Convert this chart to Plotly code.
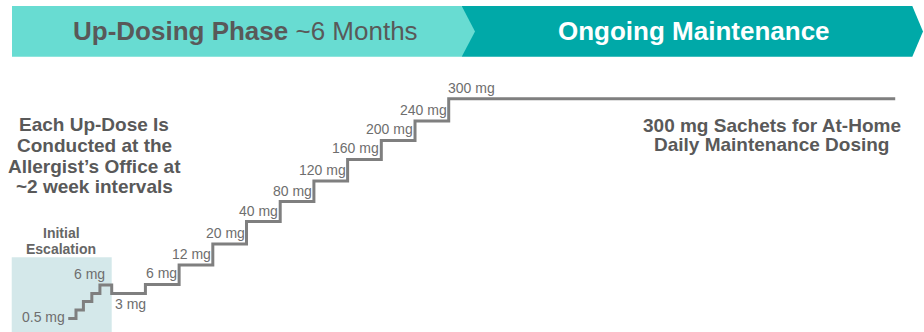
import plotly.graph_objects as go

W, H = 924, 332

# ---- data ----
dose_mg = [0.5, 1, 1.5, 3, 6, 3, 6, 12, 20, 40, 80, 120, 160, 200, 240, 300]
# start of each dose step, in ~2-week visit intervals (0 = first 3 mg up-dose)
step_start = [-1.29, -1.06, -0.84, -0.59, -0.35, 0, 1, 2, 3, 4, 5, 6, 7, 8, 9, 10]
# schematic step height (arbitrary units)
step_height = [0.68, 1.1, 1.52, 1.93, 2.35, 1.93, 2.38, 3.35, 4.4, 5.52, 6.52,
               7.55, 8.63, 9.58, 10.55, 11.66]
maintenance_end = 23.25
label_shown = [True, False, False, False, True, True, True, True, True, True,
               True, True, True, True, True, True]

phase_titles = ["<b>Up-Dosing Phase</b> ~6 Months", "<b>Ongoing Maintenance</b>"]
left_note = ["Each Up-Dose Is", "Conducted at the", "Allergist’s Office at", "~2 week intervals"]
right_note = ["300 mg Sachets for At-Home", "Daily Maintenance Dosing"]
box_title = ["Initial", "Escalation"]

FONT = "Liberation Sans, Arial, sans-serif"
LINE_C = "#7f7f7f"
LABEL_C = "#6e6e6e"
TEXT_C = "#595959"
LIGHT = "#68dcd2"
DARK = "#00a9a8"


def P(px, py):
    return px / W, 1 - py / H


def path(points):
    s = ""
    for i, (px, py) in enumerate(points):
        x, y = P(px, py)
        s += ("M" if i == 0 else "L") + f"{x:.5f},{y:.5f} "
    return s + "Z"


fig = go.Figure()

xs = step_start + [maintenance_end]
ys = step_height + [step_height[-1]]
fig.add_trace(go.Scatter(x=xs, y=ys, mode="lines", line_shape="hv",
                         line=dict(color=LINE_C, width=3), hoverinfo="skip"))

shapes = []
# initial escalation shaded box (data coordinates)
shapes.append(dict(type="rect", xref="x", yref="y", x0=-2.967, x1=step_start[5],
                   y0=0, y1=3.735, fillcolor="#d4e8ea", line=dict(width=0), layer="below"))
# phase banner
shapes.append(dict(type="path", xref="paper", yref="paper",
                   path=path([(461.7, 6), (912.3, 6), (923, 31.5), (912.3, 56.7), (461.7, 56.7)]),
                   fillcolor=DARK, line=dict(width=0)))
shapes.append(dict(type="path", xref="paper", yref="paper",
                   path=path([(12, 6), (461.7, 6), (475, 31.5), (461.7, 56.7), (12, 56.7)]),
                   fillcolor=LIGHT, line=dict(width=0)))

ann = []
# dose labels
n = len(dose_mg)
for i in range(n):
    if not label_shown[i]:
        continue
    txt = f"{dose_mg[i]:g} mg"
    base = dict(text=txt, showarrow=False, font=dict(family=FONT, size=14, color=LABEL_C),
                xref="x", yref="y")
    if i == 0:
        base.update(x=step_start[i], y=step_height[i], xanchor="right", yanchor="middle", xshift=-1, yshift=1)
    elif i == n - 1:
        base.update(x=step_start[i], y=step_height[i], xanchor="left", yanchor="bottom", xshift=-3, yshift=1)
    elif i == 5:
        base.update(x=step_start[i], y=step_height[i], xanchor="left", yanchor="top", xshift=1, yshift=-1)
    elif i == 4:
        base.update(x=step_start[i + 1], y=step_height[i], xanchor="right", yanchor="bottom", xshift=-5, yshift=1)
    else:
        base.update(x=step_start[i + 1], y=step_height[i], xanchor="right", yanchor="bottom", xshift=0, yshift=1)
    ann.append(base)

# banner titles
for txt, cx, col in [(phase_titles[0], 245, TEXT_C), (phase_titles[1], 694, "white")]:
    x, y = P(cx, 31.5)
    ann.append(dict(text=txt, x=x, y=y, xref="paper", yref="paper", showarrow=False,
                    xanchor="center", yanchor="middle",
                    font=dict(family=FONT, size=26, color=col)))

for txt, cy in zip(left_note, [123.5, 144.3, 165.1, 185.9]):
    x, y = P(94, cy + 1)
    ann.append(dict(text=f"<b>{txt}</b>", x=x, y=y, xref="paper", yref="paper", showarrow=False,
                    xanchor="center", yanchor="middle", font=dict(family=FONT, size=19, color=TEXT_C)))

for txt, cy in zip(right_note, [124.2, 143.8]):
    x, y = P(771.5, cy + 1)
    ann.append(dict(text=f"<b>{txt}</b>", x=x, y=y, xref="paper", yref="paper", showarrow=False,
                    xanchor="center", yanchor="middle", font=dict(family=FONT, size=19, color=TEXT_C)))

for txt, cy in zip(box_title, [231.7, 248.3]):
    x, y = P(61, cy + 1)
    ann.append(dict(text=f"<b>{txt}</b>", x=x, y=y, xref="paper", yref="paper", showarrow=False,
                    xanchor="center", yanchor="middle", font=dict(family=FONT, size=14, color="#666666")))

fig.update_layout(
    width=W, height=H, margin=dict(l=0, r=0, t=0, b=0),
    paper_bgcolor="white", plot_bgcolor="white", showlegend=False,
    xaxis=dict(range=[-3.315, 24.104], visible=False, fixedrange=True),
    yaxis=dict(range=[0, 16.6], visible=False, fixedrange=True),
    shapes=shapes, annotations=ann,
)

fig.write_html("out.html", config=dict(displayModeBar=False))
